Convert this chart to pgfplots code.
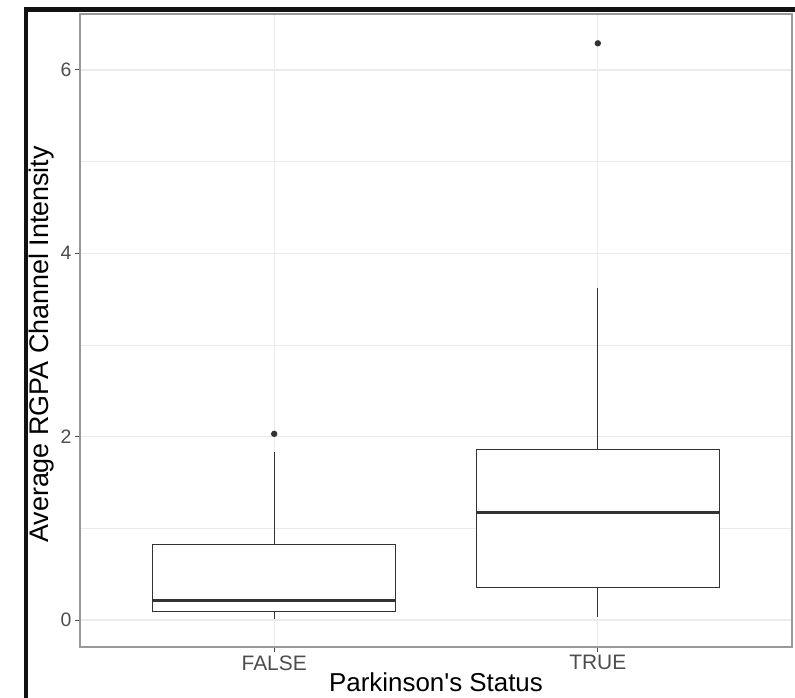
\documentclass[border=0pt]{standalone}
\usepackage{pgfplots}
\pgfplotsset{compat=1.18}
\usepgfplotslibrary{statistics}
\usepackage{fontspec}
\setmainfont{Liberation Sans}
\definecolor{gridc}{HTML}{EBEBEB}
\definecolor{boxc}{HTML}{333333}
\definecolor{tickc}{HTML}{4D4D4D}
\definecolor{framec}{HTML}{999999}
\begin{document}
\begin{tikzpicture}[x=1bp,y=1bp]
\fill[white] (0,0) rectangle (795,698);
\useasboundingbox (0,0) rectangle (795,698);
\fill[black!93] (24,0) rectangle (28,691);
\fill[black!93] (24,686) rectangle (795,691);
\begin{axis}[
  at={(80bp,51bp)}, anchor=south west,
  width=712bp, height=633bp, scale only axis,
  xmin=0.4, xmax=2.6, ymin=-0.295, ymax=6.61,
  xtick={1,2}, xticklabels={FALSE,TRUE},
  ytick={0,2,4,6}, minor ytick={1,3,5},
  grid=both,
  major grid style={gridc, line width=1.2bp},
  minor grid style={gridc, line width=0.6bp},
  axis line style={framec, line width=1.4bp},
  tick style={tickc, line width=0.9bp},
  tick align=outside, major tick length=5bp, minor tick length=0pt,
  xtick pos=left, ytick pos=left,
  xticklabel style={font=\fontsize{21}{21}\selectfont, text=tickc},
  yticklabel style={font=\fontsize{19.5}{20}\selectfont, text=tickc},
  /pgf/number format/assume math mode=true,
  xlabel={Parkinson\textquotesingle s Status}, ylabel={Average RGPA Channel Intensity},
  every axis x label/.style={at={(axis description cs:0.5,0)}, anchor=base, inner sep=0pt,
     yshift=-45bp, font=\fontsize{26}{26}\selectfont, text=black},
  every axis y label/.style={at={(ticklabel cs:0.478)}, rotate=90, anchor=near ticklabel,
     font=\fontsize{27}{27}\selectfont, text=black},
  boxplot/draw direction=y,
  boxplot/every median/.style={line width=2.6bp},
]
\addplot[boxplot prepared={draw position=1, lower whisker=0.01, lower quartile=0.095,
   median=0.213, upper quartile=0.82, upper whisker=1.83, box extend=0.75, whisker extend=0},
   draw=boxc, fill=white, solid, line width=1.3bp, mark=*, mark size=2.5bp,
   mark options={fill=boxc, draw=boxc}]
   table[row sep=\\, y index=0]{2.03\\};
\addplot[boxplot prepared={draw position=2, lower whisker=0.03, lower quartile=0.353,
   median=1.171, upper quartile=1.86, upper whisker=3.625, box extend=0.75, whisker extend=0},
   draw=boxc, fill=white, solid, line width=1.3bp, mark=*, mark size=2.5bp,
   mark options={fill=boxc, draw=boxc}]
   table[row sep=\\, y index=0]{6.29\\};
\end{axis}
\end{tikzpicture}
\end{document}
